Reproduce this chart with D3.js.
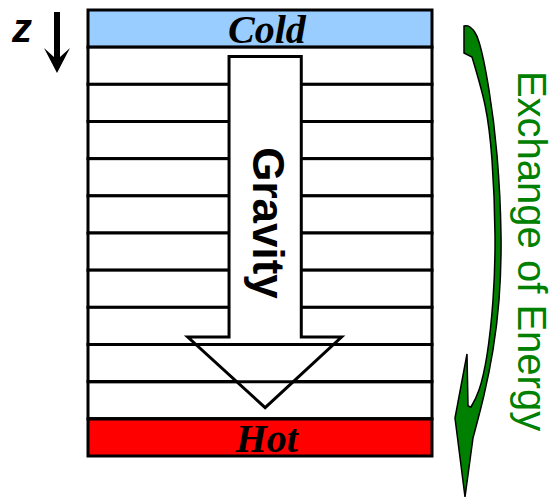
<!DOCTYPE html>
<html><head><meta charset="utf-8">
<script src="https://cdn.jsdelivr.net/npm/d3@7"></script>
<style>body{margin:0;background:#fff}svg{display:block}</style>
</head><body>
<script>
// ---- data ----
const layers = ["Cold","L1","L2","L3","L4","L5","L6","L7","L8","L9","L10","Hot"];
const layerFill = {Cold:"#99CCFF", Hot:"#FF0000"};
const bandLabels = ["Cold","Hot"];
const axisLabel = "z";
const gravityLabel = "Gravity";
const energyLabel = "Exchange of Energy";
// gravity arrow outline (x: fraction across column, y: layer index units)
const gravityArrow = [[0.41,1.25],[0.62,1.25],[0.62,8.8],[0.737,8.8],[0.515,10.7],[0.29,8.8],[0.41,8.8]];
// z arrow outline
const zArrow = [[54,12],[60,12],[60,57],[70,48],[57,73],[44,48],[54,57]];
// energy arrow outline
const energyOuter = [[470,27],[479,42],[489,90],[497,155],[501,235],[499,300],[493,350],[484,395],[473,438]];
const energyHead = [[465,497],[455,418],[467,354],[468,406]];
const energyInner = [[471,407],[479,390],[487,355],[493,300],[495,235],[492,160],[485,105],[472,57]];
const energyTail = [[464,53],[464,26]];

(function(){
const W=555,H=499;
const svg=d3.select("body").append("svg").attr("width",W).attr("height",H);

const y=d3.scaleBand().domain(layers).range([10,456]).padding(0);
const x=d3.scaleLinear().domain([0,1]).range([88,432]);
const yl=d3.scaleLinear().domain([0,layers.length]).range([10,456]);

// bands
svg.selectAll("rect.band").data(layers).join("rect")
  .attr("class","band").attr("x",x(0)).attr("y",d=>y(d))
  .attr("width",x(1)-x(0)).attr("height",y.bandwidth())
  .attr("fill",d=>layerFill[d]||"#fff").attr("stroke","#000").attr("stroke-width",3);

// gravity arrow (white filled)
const pts=gravityArrow.map(p=>[x(p[0]),yl(p[1])]);
svg.append("path").attr("d",d3.line()(pts)+"Z").attr("fill","#fff").attr("stroke","none");
const headTop=yl(gravityArrow[3][1]);
svg.selectAll("line.over").data(layers.slice(1).filter(d=>y(d)>headTop)).join("line")
  .attr("x1",x(0)).attr("x2",x(1)).attr("y1",d=>y(d)).attr("y2",d=>y(d))
  .attr("stroke","#000").attr("stroke-width",3);
svg.append("path").attr("d",d3.line()(pts)+"Z").attr("fill","none")
  .attr("stroke","#000").attr("stroke-width",3).attr("stroke-linejoin","miter");

// band labels
svg.selectAll("text.band").data(bandLabels).join("text")
  .attr("x",x(0.52)).attr("y",d=>y(d)+y.bandwidth()-4)
  .attr("text-anchor","middle").attr("font-family","'Liberation Serif',serif")
  .attr("font-weight","bold").attr("font-style","italic").attr("font-size",40)
  .attr("fill","#000").text(d=>d);

// gravity label
svg.append("text").attr("transform","translate(253,223) rotate(90)")
  .attr("text-anchor","middle").attr("font-family","'Liberation Sans',Arial,sans-serif")
  .attr("font-weight","bold").attr("font-size",44).attr("fill","#000").text(gravityLabel);

// z axis indicator
svg.append("text").attr("x",12).attr("y",42)
  .attr("font-family","'Liberation Sans',Arial,sans-serif").attr("font-weight","bold")
  .attr("font-style","italic").attr("font-size",40).attr("fill","#000").text(axisLabel);
svg.append("path").attr("d",d3.line()(zArrow)+"Z").attr("fill","#000");

// energy arrow
const cr=d3.line().curve(d3.curveNatural);
const lin=d3.line();
const dPath=cr(energyOuter)+lin(energyHead).replace(/^M/,"L")+cr(energyInner).replace(/^M/,"L")
  +lin(energyTail).replace(/^M/,"L")+"Q467,25 470,27Z";
svg.append("path").attr("d",dPath).attr("fill","#008000").attr("stroke","#000").attr("stroke-width",1.5);

// energy label
svg.append("text").attr("transform","translate(518,251) rotate(90)")
  .attr("text-anchor","middle").attr("font-family","'Liberation Sans',Arial,sans-serif")
  .attr("font-size",40).attr("fill","#008000").text(energyLabel);
})();
</script>
</body></html>
